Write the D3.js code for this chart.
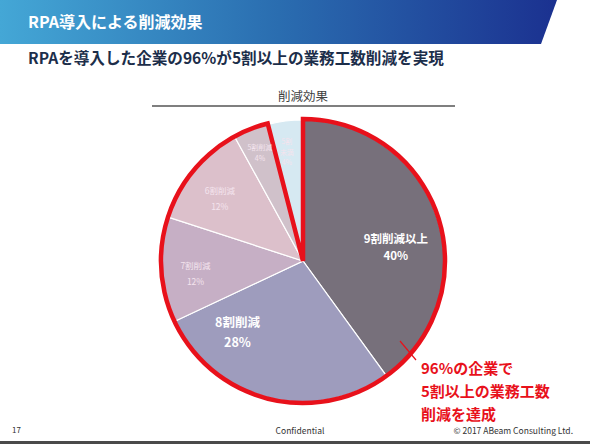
<!DOCTYPE html>
<html><head><meta charset="utf-8">
<script src="https://cdn.jsdelivr.net/npm/d3@7"></script>
<style>body{margin:0;background:#fff}svg{display:block}</style>
</head><body>
<svg id="c" width="590" height="444"></svg>
<script>
const categories = ["9割削減以上","8割削減","7割削減","6割削減","5割削減","5割未満"];
const labelLines = [["9割削減以上"],["8割削減"],["7割削減"],["6割削減"],["5割削減"],["5割","未満"]];
const values = [40, 28, 12, 12, 4, 4];
const colors = ["#77707b","#9e9cbd","#c6afc5","#dcc0cb","#d0c1ca","#d6e9f2"];
const highlightCount = 5; // first 5 slices = 96%
const title = "RPA導入による削減効果";
const subtitle = "RPAを導入した企業の96%が5割以上の業務工数削減を実現";
const chartTitle = "削減効果";
const calloutLines = ["96%の企業で","5割以上の業務工数","削減を達成"];

const svg = d3.select("#c");
const JP = "'Noto Sans CJK JP','Noto Sans',sans-serif";

// header band
const defs = svg.append("defs");
const g = defs.append("linearGradient").attr("id","hg").attr("x1","0").attr("x2","1");
g.append("stop").attr("offset","0").attr("stop-color","#44a7d6");
g.append("stop").attr("offset","0.5").attr("stop-color","#2a6db0");
g.append("stop").attr("offset","1").attr("stop-color","#1b3190");
svg.append("path").attr("d","M0,0 L557,0 L541,44 L0,44 Z").attr("fill","url(#hg)");
svg.append("text").attr("x",28).attr("y",28).attr("fill","#fff")
  .attr("font-family",JP).attr("font-weight","bold").attr("font-size",16).text(title);
svg.append("text").attr("x",28).attr("y",64).attr("fill","#1c2e4a")
  .attr("font-family",JP).attr("font-weight","bold").attr("font-size",15.6).text(subtitle);

// chart title
svg.append("text").attr("x",303).attr("y",101).attr("text-anchor","middle").attr("fill","#404040")
  .attr("font-family",JP).attr("font-size",12.5).text(chartTitle);
svg.append("line").attr("x1",152).attr("x2",455).attr("y1",106).attr("y2",106)
  .attr("stroke","#555").attr("stroke-width",1.3);

// pie
const cx = 303, cy = 261, R = 141;
const pie = d3.pie().sort(null).value(d => d);
const arcs = pie(values);
const arc = d3.arc().innerRadius(0).outerRadius(R);
const pg = svg.append("g").attr("transform",`translate(${cx},${cy})`);
pg.selectAll("path.s").data(arcs).join("path").attr("class","s")
  .attr("d",arc).attr("fill",(d,i)=>colors[i]).attr("stroke","#fff").attr("stroke-width",1.2);

// highlight outline around the first slices
const hiEnd = arcs[highlightCount-1].endAngle;
const hiArc = d3.arc().innerRadius(0).outerRadius(R+1)({startAngle:0,endAngle:hiEnd});
pg.append("path").attr("d",hiArc).attr("fill","none").attr("stroke","#e8111b")
  .attr("stroke-width",4.5).attr("stroke-linejoin","miter");

// labels
const labelR = [0.7,0.67,0.7,0.72,0.83,0.8];
const nudge = [[-1,17],[-42,-20],[-9,7],[-5,3],[0,1],[-2,3]];
const fs = [11.5,12.5,8.5,8.5,7,7];
const lhf = [1.55,1.55,1.9,1.9,1.6,1.55];
arcs.forEach((d,i)=>{
  const r = R*labelR[i];
  const a = (d.startAngle+d.endAngle)/2;
  const x = Math.sin(a)*r + nudge[i][0];
  const y = -Math.cos(a)*r + nudge[i][1];
  const lines = labelLines[i].concat([d.data+"%"]);
  const lh = fs[i]*lhf[i];
  const t = pg.append("text").attr("text-anchor","middle").attr("fill", i<2?"#fff":"#f4e4ee")
    .attr("font-family",JP).attr("font-size",fs[i]).attr("font-weight", i<2?"bold":"normal");
  lines.forEach((s,k)=>{
    t.append("tspan").attr("x",x).attr("y",y + (k-(lines.length-1)/2)*lh + fs[i]*0.35).text(s);
  });
});

// callout
svg.append("line").attr("x1",400).attr("y1",341).attr("x2",416).attr("y2",360)
  .attr("stroke","#e8111b").attr("stroke-width",1.2);
calloutLines.forEach((s,k)=>{
  svg.append("text").attr("x",421).attr("y",374+k*23).attr("fill","#e8111b")
    .attr("font-family",JP).attr("font-weight","bold").attr("font-size",15).text(s);
});

// footer
svg.append("text").attr("x",12).attr("y",433).attr("font-family",JP).attr("font-size",8).attr("fill","#333").text("17");
svg.append("text").attr("x",300).attr("y",434).attr("text-anchor","middle").attr("font-family",JP).attr("font-size",8.5).attr("fill","#333").text("Confidential");
svg.append("text").attr("x",573).attr("y",434).attr("text-anchor","end").attr("font-family",JP).attr("font-size",8.5).attr("fill","#333").text("© 2017 ABeam Consulting Ltd.");
svg.append("rect").attr("x",0).attr("y",441).attr("width",590).attr("height",3).attr("fill","#4a4a4a");
</script>
</body></html>
